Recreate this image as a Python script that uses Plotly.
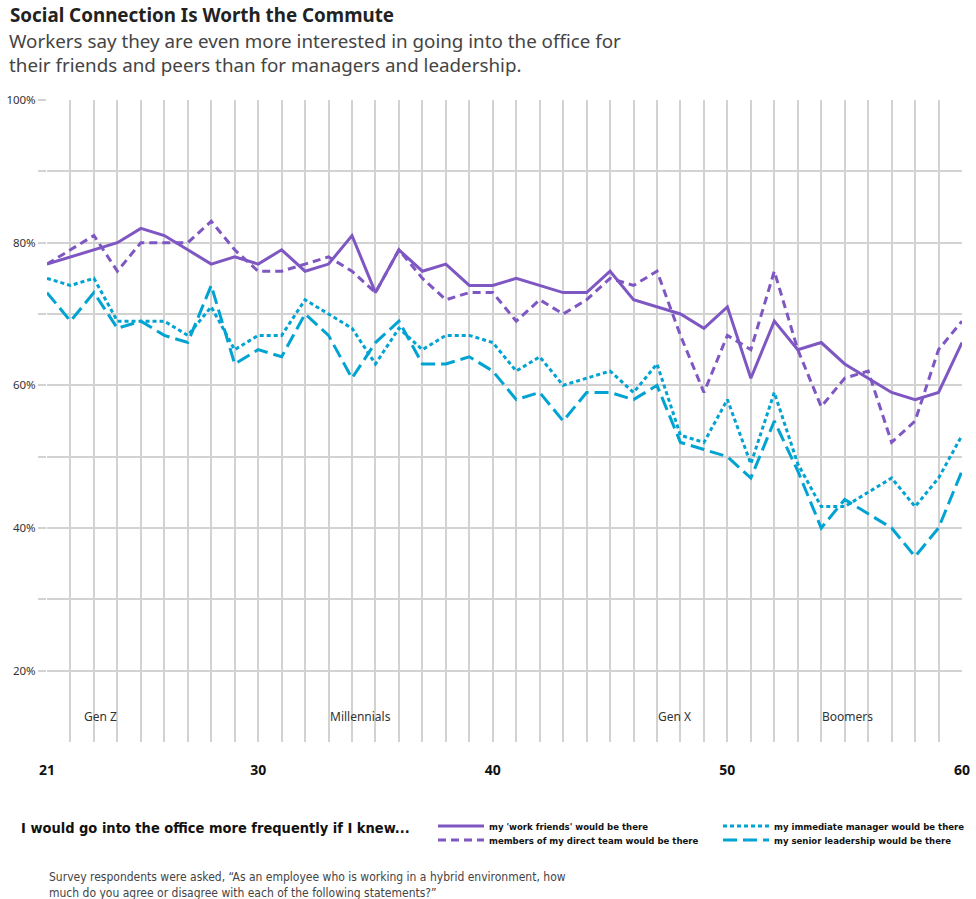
import plotly.graph_objects as go

ages = list(range(21, 61))

work_friends = [77, 78, 79, 80, 82, 81, 79, 77, 78, 77,
                79, 76, 77, 81, 73, 79, 76, 77, 74, 74,
                75, 74, 73, 73, 76, 72, 71, 70, 68, 71,
                61, 69, 65, 66, 63, 61, 59, 58, 59, 66]

direct_team = [77, 79, 81, 76, 80, 80, 80, 83, 79, 76,
               76, 77, 78, 76, 73, 79, 75, 72, 73, 73,
               69, 72, 70, 72, 75, 74, 76, 67, 59, 67,
               65, 76, 65, 57, 61, 62, 52, 55, 65, 69]

immediate_manager = [75, 74, 75, 69, 69, 69, 67, 71, 65, 67,
                     67, 72, 70, 68, 63, 68, 65, 67, 67, 66,
                     62, 64, 60, 61, 62, 59, 63, 53, 52, 58,
                     49, 59, 49, 43, 43, 45, 47, 43, 47, 53]

senior_leadership = [73, 69, 73, 68, 69, 67, 66, 74, 63, 65,
                     64, 70, 67, 61, 66, 69, 63, 63, 64, 62,
                     58, 59, 55, 59, 59, 58, 60, 52, 51, 50,
                     47, 55, 48, 40, 44, 42, 40, 36, 40, 48]

series_names = ["my 'work friends' would be there",
                "members of my direct team would be there",
                "my immediate manager would be there",
                "my senior leadership would be there"]

x_tick_labels = {21: "21", 30: "30", 40: "40", 50: "50", 60: "60"}
y_tick_vals = [20, 30, 40, 50, 60, 70, 80, 90, 100]
y_tick_labels = ["20%", "", "40%", "", "60%", "", "80%", "", "100%"]

generations = ["Gen Z", "Millennials", "Gen X", "Boomers"]
generation_pos = [23.3, 34.35, 47.75, 55.1]

PURPLE = "#7e57c2"
CYAN = "#00a3d2"
GRID = "#d2d2d2"
MAIN_FONT = "Noto Sans, Open Sans, sans-serif"
NARROW_FONT = "DejaVu Sans Condensed, Liberation Sans, sans-serif"

fig = go.Figure()

styles = [
    dict(color=PURPLE, dash="solid", legend="legend"),
    dict(color=PURPLE, dash="8px,5px", legend="legend2"),
    dict(color=CYAN, dash="4px,3px", legend="legend3"),
    dict(color=CYAN, dash="14px,6px", legend="legend4"),
]
values = [work_friends, direct_team, immediate_manager, senior_leadership]

for name, vals, st in zip(series_names, values, styles):
    fig.add_trace(go.Scatter(
        x=ages, y=vals, name="<b>" + name + "</b>", mode="lines",
        line=dict(color=st["color"], dash=st["dash"], width=3),
        legend=st["legend"],
    ))

W, H = 976, 899
ml, mr, mt, mb = 47, 14, 100, 157
pw = W - ml - mr
ph = H - mt - mb


def px_x(px):
    return (px - ml) / pw


def px_y(py):
    return (H - mb - py) / ph


legend_font = dict(family=NARROW_FONT, size=9.5, color="#111")
leg_common = dict(orientation="v", xanchor="left", yanchor="middle",
                  font=legend_font, bgcolor="rgba(0,0,0,0)", itemwidth=46,
                  tracegroupgap=0, itemclick=False)

fig.update_layout(
    width=W, height=H, autosize=False,
    margin=dict(l=ml, r=mr, t=mt, b=mb, autoexpand=False),
    paper_bgcolor="white", plot_bgcolor="white",
    font=dict(family=MAIN_FONT, color="#333"),
    showlegend=True,
    legend=dict(x=px_x(433), y=px_y(826), **leg_common),
    legend2=dict(x=px_x(433), y=px_y(840), **leg_common),
    legend3=dict(x=px_x(718), y=px_y(826), **leg_common),
    legend4=dict(x=px_x(718), y=px_y(840), **leg_common),
    xaxis=dict(
        range=[21, 60],
        tickvals=ages,
        ticktext=[x_tick_labels.get(a, "") for a in ages],
        showgrid=True, gridcolor=GRID, gridwidth=2,
        zeroline=False, showline=False, ticks="",
        tickfont=dict(family=MAIN_FONT, size=14, color="#111", weight="bold"),
        ticklabelstandoff=18,
        automargin=False,
        fixedrange=True,
    ),
    yaxis=dict(
        range=[10, 100],
        tickvals=y_tick_vals,
        ticktext=y_tick_labels,
        showgrid=True, gridcolor=GRID, gridwidth=2,
        zeroline=False, showline=False,
        ticks="outside", ticklen=8, tickwidth=2, tickcolor=GRID,
        tickfont=dict(family=MAIN_FONT, size=11.5, color="#333"),
        automargin=False,
        fixedrange=True,
    ),
)

annotations = [
    dict(text="<b>Social Connection Is Worth the Commute</b>",
         x=px_x(8), y=px_y(15), xref="paper", yref="paper",
         xanchor="left", yanchor="middle", showarrow=False, align="left",
         font=dict(size=18.8, color="#222")),
    dict(text="Workers say they are even more interested in going into the office for<br>their friends and peers than for managers and leadership.",
         x=px_x(7), y=px_y(53), xref="paper", yref="paper",
         xanchor="left", yanchor="middle", showarrow=False, align="left",
         font=dict(size=18.8, color="#444")),
    dict(text="<b>I would go into the office more frequently if I knew...</b>",
         x=px_x(19), y=px_y(828), xref="paper", yref="paper",
         xanchor="left", yanchor="middle", showarrow=False, align="left",
         font=dict(family=NARROW_FONT, size=14.5, color="#111")),
    dict(text="Survey respondents were asked, “As an employee who is working in a hybrid environment, how<br>much do you agree or disagree with each of the following statements?”",
         x=px_x(47), y=px_y(885), xref="paper", yref="paper",
         xanchor="left", yanchor="middle", showarrow=False, align="left",
         font=dict(family=NARROW_FONT, size=12, color="#444")),
]
for g, gx in zip(generations, generation_pos):
    annotations.append(dict(text=g, x=gx, y=13.6, xref="x", yref="y",
                            showarrow=False, xanchor="center", yanchor="middle",
                            font=dict(size=12, color="#333")))
fig.update_layout(annotations=annotations)

fig.write_html(
    "out.html",
    config={"responsive": False, "displayModeBar": False},
    post_script="document.body.style.margin='0';document.body.style.overflow='hidden';",
)
